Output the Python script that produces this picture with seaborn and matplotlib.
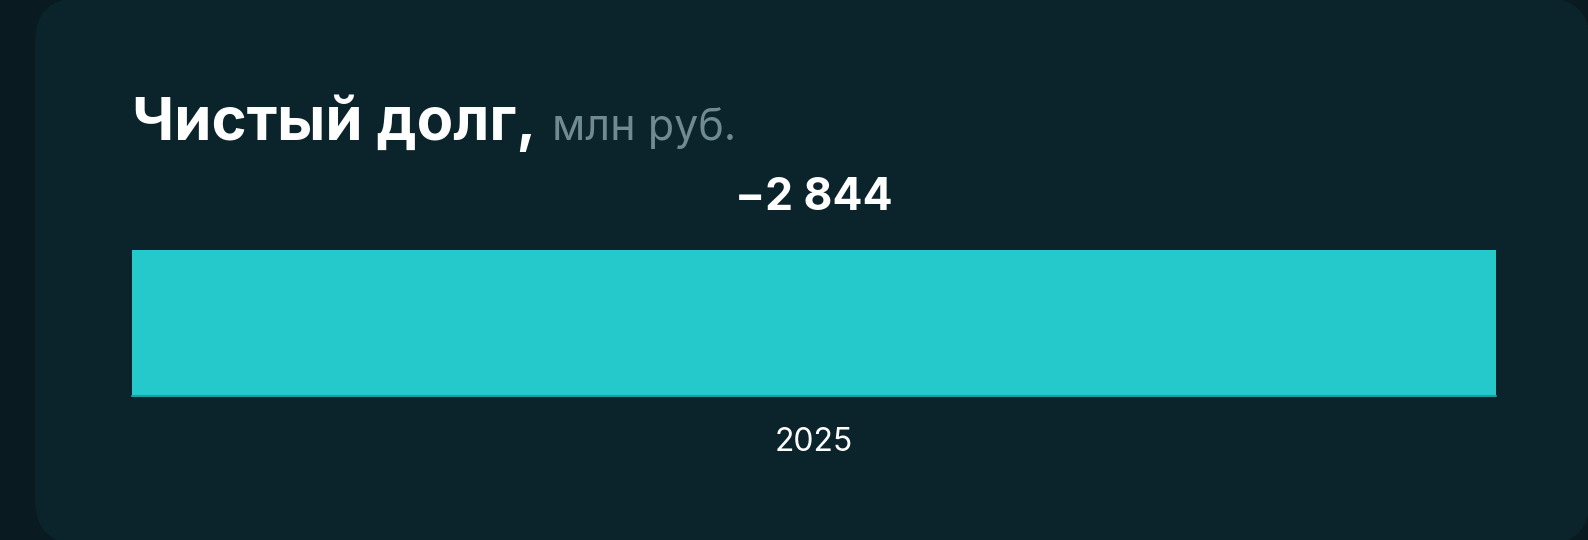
import matplotlib
matplotlib.use('Agg')
import matplotlib.pyplot as plt
from matplotlib.patches import FancyBboxPatch
import seaborn as sns
import pandas as pd

# data
years = ['2025']
net_debt = [-2844]
title = 'Чистый долг,'
unit = 'млн руб.'

df = pd.DataFrame({'year': years, 'value': net_debt})
df['height'] = df['value'].abs()

sns.set_theme(style='white')
plt.rcParams['font.family'] = ['Inter', 'DejaVu Sans']

W, H = 1588, 540
fig = plt.figure(figsize=(W / 100, H / 100), dpi=100)
fig.patch.set_facecolor('#091b20')

# card background
card = FancyBboxPatch((35 / W, -4 / H), (W - 33) / W, (H + 6) / H,
                      boxstyle='round,pad=0,rounding_size=0.028',
                      transform=fig.transFigure, facecolor='#0b232a',
                      edgecolor='none', mutation_aspect=W / H, zorder=-5)
fig.patches.append(card)

ax = fig.add_axes([132 / W, 1 - 396 / H, (1496 - 132) / W, (396 - 250) / H])
ax.set_zorder(2)
ax.set_facecolor('none')
sns.barplot(data=df, x='year', y='height', color='#26c9cb', saturation=1,
            width=1, linewidth=0, ax=ax)
ax.set_xlim(-0.5, 0.5)
ax.set_ylim(0, df['height'].max())
ax.axhline(0, color='#1a9ea2', lw=1.5, clip_on=False)

for i, v in enumerate(df['value']):
    lbl = f'{v:,}'.replace(',', ' ').replace('-', '\u2212')
    ax.annotate(lbl, (i, df['height'][i]), xytext=(0, 22), textcoords='offset points',
                ha='center', va='bottom', fontsize=32, fontweight='bold', color='white')

ax.set_xlabel('')
ax.set_ylabel('')
ax.set_yticks([])
ax.tick_params(axis='x', length=0, pad=22, labelsize=23, labelcolor='white')
sns.despine(ax=ax, left=True, bottom=True)

t = fig.text(132 / W, 1 - 140 / H, title, fontsize=43, fontweight='bold',
             color='white', ha='left', va='baseline')
fig.canvas.draw()
bb = t.get_window_extent()
fig.text((bb.x1 + 16) / W, 1 - 140 / H, unit, fontsize=31, color='#6f8a91',
         ha='left', va='baseline')

fig.savefig('out.png', dpi=100, facecolor=fig.get_facecolor())
